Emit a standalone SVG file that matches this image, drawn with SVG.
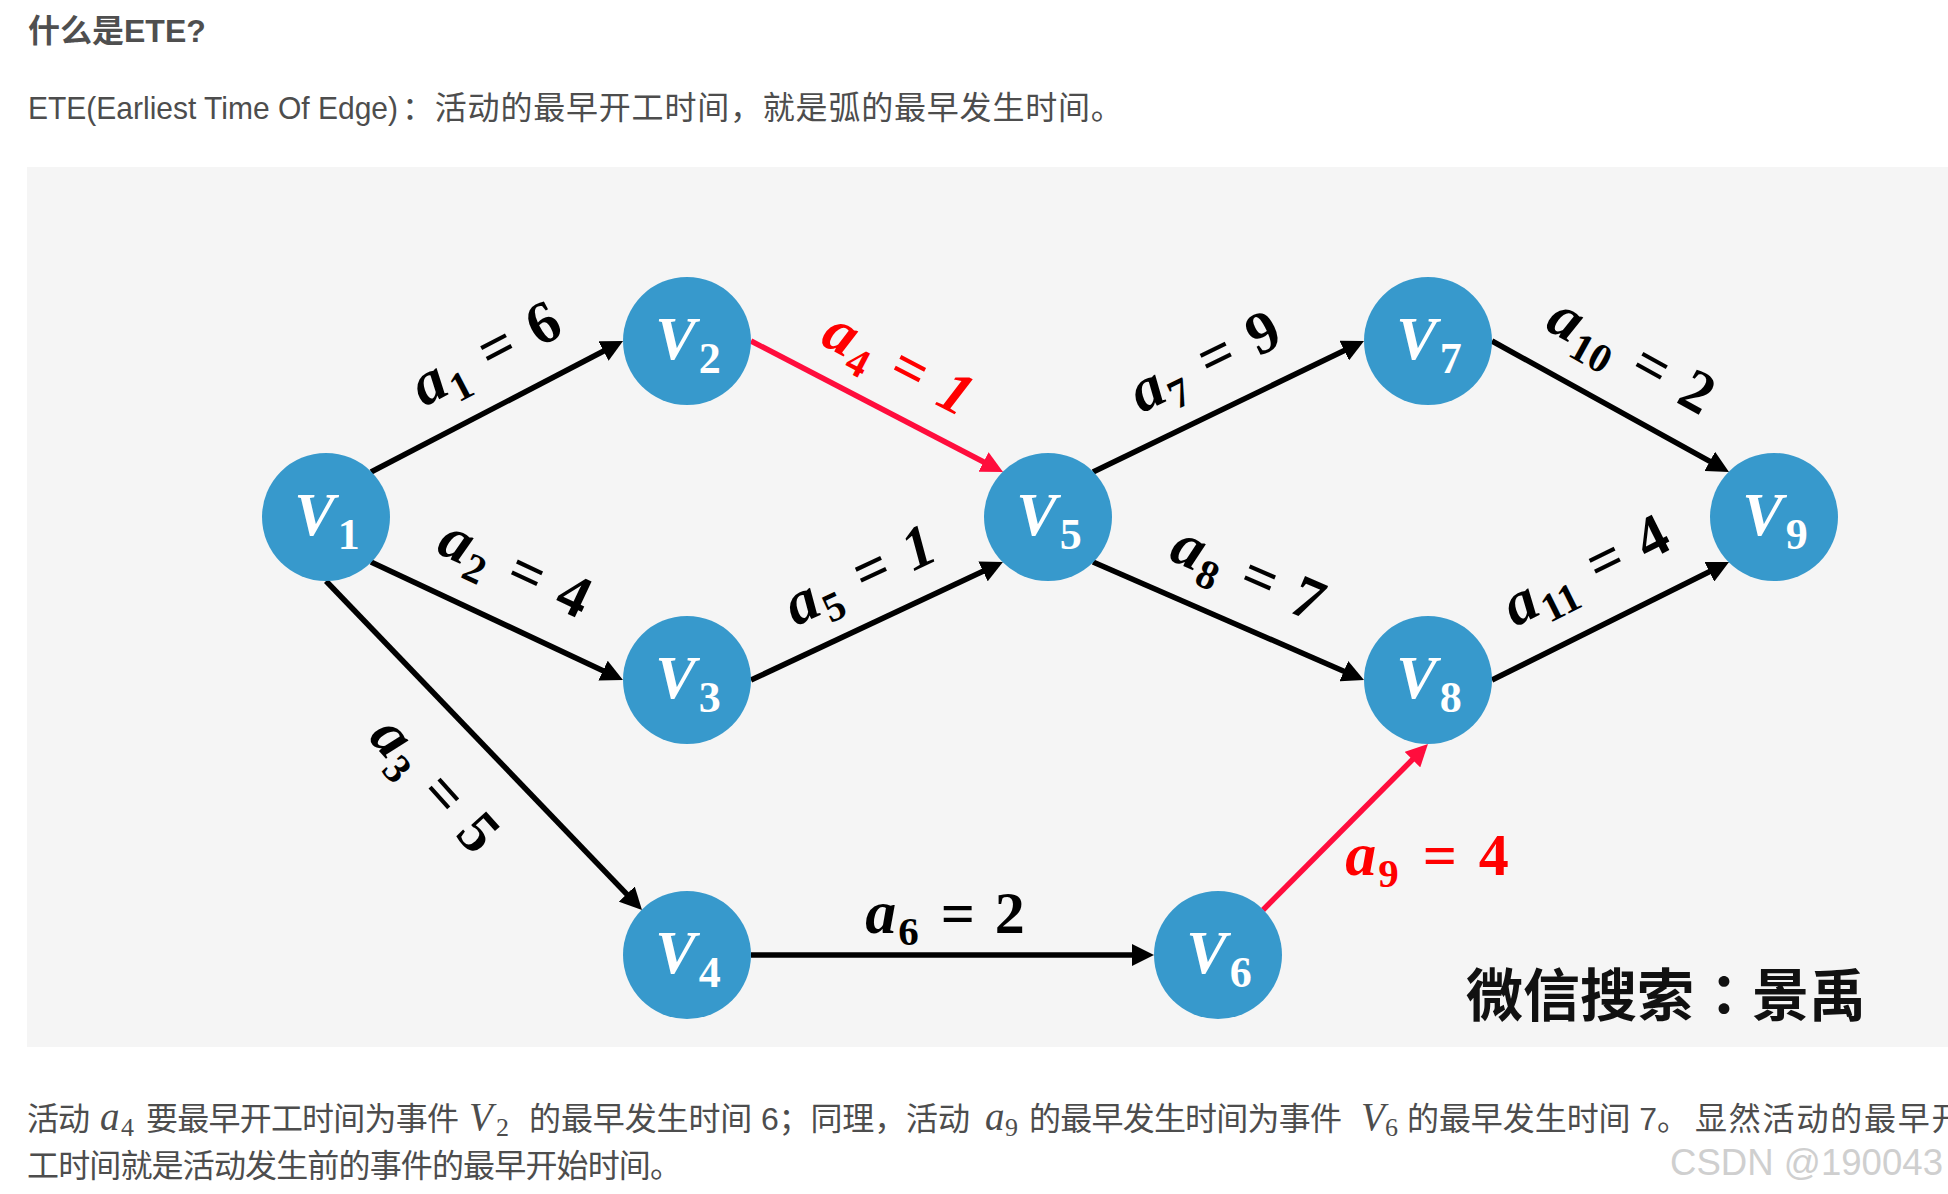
<svg xmlns="http://www.w3.org/2000/svg" width="1948" height="1194" viewBox="0 0 1948 1194">
<style>
.body{font-family:"Liberation Sans","Noto Sans CJK SC",sans-serif;font-size:32px;fill:#4d4d4d}
.title{font-family:"Liberation Sans","Noto Sans CJK SC",sans-serif;font-size:32px;font-weight:bold;fill:#4f4f4f}
.km{font-family:"Liberation Serif",serif;font-style:italic;font-size:39px;fill:#4d4d4d}
.ks{font-family:"Liberation Serif",serif;font-size:26px;fill:#4d4d4d}
.node circle{fill:#3799cc}
.nl{font-family:"Liberation Serif",serif;fill:#fff;font-weight:bold;text-anchor:middle}
.nv{font-style:italic;font-size:61px}
.ns{font-size:44px}
.edge{stroke:#000;stroke-width:5.5;fill:none;marker-end:url(#arr)}
.edge.red{stroke:#ff0d3d;marker-end:url(#arrR)}
.lbl{font-family:"Liberation Serif",serif;fill:#000;text-anchor:middle;font-weight:bold}
.lbl.red{fill:#ff0000}
.mi{font-style:italic;font-size:62px}
.sb{font-size:41px}
.eq{font-size:60px}
.num{font-size:60px}
</style>
<defs>
<marker id="arr" markerUnits="userSpaceOnUse" viewBox="0 0 22 22" markerWidth="22" markerHeight="22" refX="10" refY="11" orient="auto"><path d="M0,0 L22,11 L0,22 z" fill="#000"/></marker>
<marker id="arrR" markerUnits="userSpaceOnUse" viewBox="0 0 22 22" markerWidth="22" markerHeight="22" refX="10" refY="11" orient="auto"><path d="M0,0 L22,11 L0,22 z" fill="#ff0d3d"/></marker>
</defs>
<rect width="1948" height="1194" fill="#fff"/>
<g id="header">
<text class="title" x="28" y="42">什么是ETE?</text>
<text class="body" x="28" y="119" font-size="30" textLength="370" lengthAdjust="spacingAndGlyphs">ETE(Earliest Time Of Edge)</text>
<text class="body" x="402" y="119" letter-spacing="0.8">：活动的最早开工时间，就是弧的最早发生时间。</text>
</g>
<rect id="panel" x="27" y="167" width="1921" height="880" fill="#f5f5f5"/>
<g id="connectors">
<line class="edge" x1="371" y1="472" x2="612.4" y2="346.5"/>
<line class="edge" x1="371" y1="562" x2="612.1" y2="674.9"/>
<line class="edge" x1="326" y1="581" x2="633.7" y2="901.3"/>
<line class="edge red" x1="751" y1="341" x2="992.4" y2="466.5"/>
<line class="edge" x1="751" y1="680" x2="992.1" y2="567.1"/>
<line class="edge" x1="751" y1="955" x2="1142" y2="955"/>
<line class="edge" x1="1093" y1="472" x2="1353.2" y2="346.2"/>
<line class="edge" x1="1093" y1="562" x2="1353" y2="675.2"/>
<line class="edge red" x1="1263" y1="910" x2="1419.5" y2="752.5"/>
<line class="edge" x1="1492" y1="341" x2="1718.5" y2="466.2"/>
<line class="edge" x1="1492" y1="680" x2="1718.3" y2="567.3"/>
</g>
<g id="edge-labels">
<g transform="translate(488,358) rotate(-27.5)"><text class="lbl" y="14"><tspan class="mi">a</tspan><tspan class="sb" dx="2" dy="12">1</tspan><tspan class="eq" dx="22" dy="-12">=</tspan><tspan class="num" dx="20">6</tspan></text></g>
<g transform="translate(513,573) rotate(25)"><text class="lbl" y="14"><tspan class="mi">a</tspan><tspan class="sb" dx="2" dy="12">2</tspan><tspan class="eq" dx="22" dy="-12">=</tspan><tspan class="num" dx="20">4</tspan></text></g>
<g transform="translate(431,788) rotate(48)"><text class="lbl" y="14"><tspan class="mi">a</tspan><tspan class="sb" dx="2" dy="12">3</tspan><tspan class="eq" dx="22" dy="-12">=</tspan><tspan class="num" dx="20">5</tspan></text></g>
<g transform="translate(896,368) rotate(27.5)"><text class="lbl red" y="14"><tspan class="mi">a</tspan><tspan class="sb" dx="2" dy="12">4</tspan><tspan class="eq" dx="22" dy="-12">=</tspan><tspan class="num" font-style="italic" dx="20">1</tspan></text></g>
<g transform="translate(862,580) rotate(-25)"><text class="lbl" y="14"><tspan class="mi">a</tspan><tspan class="sb" dx="2" dy="12">5</tspan><tspan class="eq" dx="22" dy="-12">=</tspan><tspan class="num" font-style="italic" dx="20">1</tspan></text></g>
<g transform="translate(945,919)"><text class="lbl" y="14"><tspan class="mi">a</tspan><tspan class="sb" dx="2" dy="12">6</tspan><tspan class="eq" dx="22" dy="-12">=</tspan><tspan class="num" dx="20">2</tspan></text></g>
<g transform="translate(1207,366) rotate(-26)"><text class="lbl" y="14"><tspan class="mi">a</tspan><tspan class="sb" dx="2" dy="12">7</tspan><tspan class="eq" dx="22" dy="-12">=</tspan><tspan class="num" dx="20">9</tspan></text></g>
<g transform="translate(1246,578) rotate(23.5)"><text class="lbl" y="14"><tspan class="mi">a</tspan><tspan class="sb" dx="2" dy="12">8</tspan><tspan class="eq" dx="22" dy="-12">=</tspan><tspan class="num" dx="20">7</tspan></text></g>
<g transform="translate(1427,861)"><text class="lbl red" y="14"><tspan class="mi">a</tspan><tspan class="sb" dx="2" dy="12">9</tspan><tspan class="eq" dx="24" dy="-12">=</tspan><tspan class="num" dx="22">4</tspan></text></g>
<g transform="translate(1629,360) rotate(29)"><text class="lbl" y="14"><tspan class="mi">a</tspan><tspan class="sb" dx="2" dy="12">10</tspan><tspan class="eq" dx="22" dy="-12">=</tspan><tspan class="num" dx="20">2</tspan></text></g>
<g transform="translate(1588,575) rotate(-26.5)"><text class="lbl" y="14"><tspan class="mi">a</tspan><tspan class="sb" dx="2" dy="12">11</tspan><tspan class="eq" dx="22" dy="-12">=</tspan><tspan class="num" dx="20">4</tspan></text></g>
</g>
<g id="V1" class="node"><circle cx="326" cy="517" r="64"/><text class="nl" x="327" y="535"><tspan class="nv">V</tspan><tspan class="ns" dx="3" dy="14">1</tspan></text></g>
<g id="V2" class="node"><circle cx="687" cy="341" r="64"/><text class="nl" x="688" y="359"><tspan class="nv">V</tspan><tspan class="ns" dx="3" dy="14">2</tspan></text></g>
<g id="V3" class="node"><circle cx="687" cy="680" r="64"/><text class="nl" x="688" y="698"><tspan class="nv">V</tspan><tspan class="ns" dx="3" dy="14">3</tspan></text></g>
<g id="V4" class="node"><circle cx="687" cy="955" r="64"/><text class="nl" x="688" y="973"><tspan class="nv">V</tspan><tspan class="ns" dx="3" dy="14">4</tspan></text></g>
<g id="V5" class="node"><circle cx="1048" cy="517" r="64"/><text class="nl" x="1049" y="535"><tspan class="nv">V</tspan><tspan class="ns" dx="3" dy="14">5</tspan></text></g>
<g id="V6" class="node"><circle cx="1218" cy="955" r="64"/><text class="nl" x="1219" y="973"><tspan class="nv">V</tspan><tspan class="ns" dx="3" dy="14">6</tspan></text></g>
<g id="V7" class="node"><circle cx="1428" cy="341" r="64"/><text class="nl" x="1429" y="359"><tspan class="nv">V</tspan><tspan class="ns" dx="3" dy="14">7</tspan></text></g>
<g id="V8" class="node"><circle cx="1428" cy="680" r="64"/><text class="nl" x="1429" y="698"><tspan class="nv">V</tspan><tspan class="ns" dx="3" dy="14">8</tspan></text></g>
<g id="V9" class="node"><circle cx="1774" cy="517" r="64"/><text class="nl" x="1775" y="535"><tspan class="nv">V</tspan><tspan class="ns" dx="3" dy="14">9</tspan></text></g>
<g id="wechat" font-weight="bold" font-size="57" fill="#111">
<text x="1466" y="1016" font-family="'Noto Sans CJK SC',sans-serif">微信搜索</text>
<text x="1724" y="1016" text-anchor="middle" font-family="'Noto Sans CJK TC',sans-serif">：</text>
<text x="1752" y="1016" font-family="'Noto Sans CJK SC',sans-serif">景禹</text>
</g>
<g id="footer">
<text class="body" x="27" y="1130" textLength="63" lengthAdjust="spacing">活动</text>
<text class="km" x="100" y="1130">a</text><text class="ks" x="121" y="1136">4</text>
<text class="body" x="146" y="1130" textLength="313" lengthAdjust="spacing">要最早开工时间为事件</text>
<text class="km" x="469" y="1130">V</text><text class="ks" x="496" y="1136">2</text>
<text class="body" x="529" y="1130" textLength="441" lengthAdjust="spacing">的最早发生时间 6；同理，活动</text>
<text class="km" x="985" y="1130">a</text><text class="ks" x="1005" y="1136">9</text>
<text class="body" x="1029" y="1130" textLength="313" lengthAdjust="spacing">的最早发生时间为事件</text>
<text class="km" x="1361" y="1130">V</text><text class="ks" x="1385" y="1136">6</text>
<text class="body" x="1407" y="1130" textLength="282" lengthAdjust="spacing">的最早发生时间 7。</text>
<text class="body" x="1695" y="1130" letter-spacing="1.8">显然活动的最早开</text>
<text class="body" x="27" y="1177" textLength="655" lengthAdjust="spacing">工时间就是活动发生前的事件的最早开始时间。</text>
<text x="1670" y="1175" font-family="'Liberation Sans',sans-serif" font-size="36" fill="#cfcfcf" textLength="273" lengthAdjust="spacingAndGlyphs">CSDN @190043</text>
</g>
</svg>
